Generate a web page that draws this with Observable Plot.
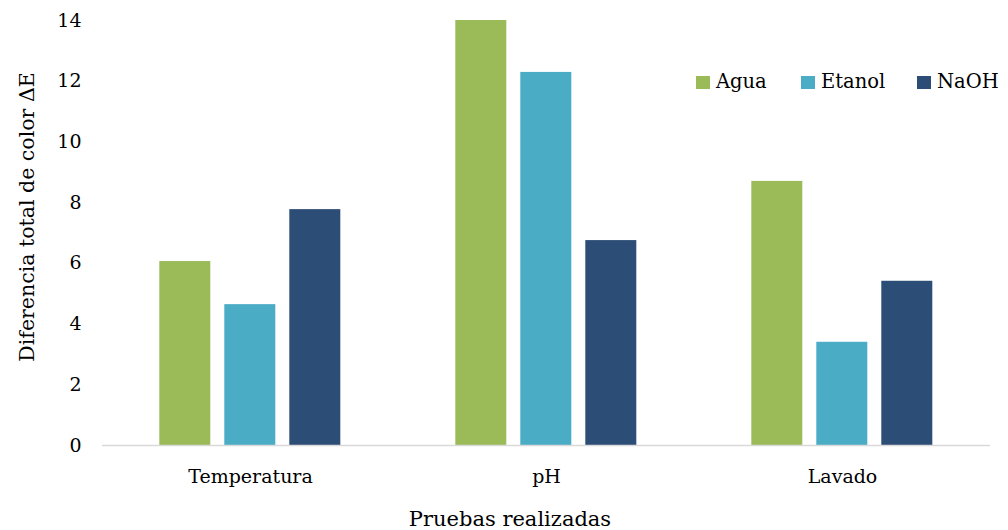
<!DOCTYPE html>
<html>
<head>
<meta charset="utf-8">
<script src="https://cdn.jsdelivr.net/npm/d3@7"></script>
<script src="https://cdn.jsdelivr.net/npm/@observablehq/plot@0.6"></script>
<style>
  html, body { margin: 0; padding: 0; background: #fff; overflow: hidden; }
  #chart { position: relative; width: 1008px; height: 530px; font-family: "DejaVu Serif", serif; color: #000; }
  #chart svg { display: block; }
  .legend .item { position: absolute; top: 70px; display: flex; align-items: center; gap: 6px; font-size: 19.5px; line-height: 24px; white-space: nowrap; }
  .legend .sw { width: 14px; height: 13px; display: inline-block; }
  .ytitle { position: absolute; left: -173px; top: 205px; width: 400px; height: 24px; line-height: 24px; text-align: center; font-size: 20.5px; transform: rotate(-90deg); white-space: nowrap; }
  .xtitle { position: absolute; left: 310px; top: 507px; width: 400px; height: 24px; line-height: 24px; text-align: center; font-size: 21px; white-space: nowrap; }
</style>
</head>
<body>
<div id="chart"></div>
<script>
// Pruebas (categorías) y solventes (series)
const pruebas = ["Temperatura", "pH", "Lavado"];
const solventes = ["Agua", "Etanol", "NaOH"];

// Diferencia total de color ΔE por prueba
const agua   = [6.06, 14.0, 8.70];
const etanol = [4.64, 12.29, 3.40];
const naoh   = [7.77, 6.75, 5.41];

const colores = ["#9BBB59", "#4BACC6", "#2C4D75"];
const yTicks = [0, 2, 4, 6, 8, 10, 12, 14];

const tituloY = "Diferencia total de color ΔE";
const tituloX = "Pruebas realizadas";

// Tabla larga para Plot
const series = [agua, etanol, naoh];
const filas = [];
pruebas.forEach((p, i) => {
  solventes.forEach((s, j) => {
    filas.push({ prueba: p, solvente: s, valor: series[j][i] });
  });
});

const chart = Plot.plot({
  width: 1008,
  height: 530,
  marginLeft: 101.7,
  marginRight: 16.7,
  marginTop: 20,
  marginBottom: 85,
  style: { fontFamily: "DejaVu Serif, serif", fontSize: "19px", color: "#000", background: "transparent" },
  fx: { domain: pruebas, padding: 0, label: null, axis: "bottom", tickSize: 0, tickPadding: 24 },
  x: { domain: solventes, paddingInner: 0.212, paddingOuter: 0.852, axis: null },
  y: { domain: [0, 14], ticks: yTicks, tickSize: 0, tickPadding: 21, label: null },
  color: { domain: solventes, range: colores },
  marks: [
    Plot.barY(filas, { fx: "prueba", x: "solvente", y: "valor", fill: "solvente" }),
    Plot.ruleY([0], { stroke: "#D9D9D9", strokeWidth: 1.5 })
  ]
});

const root = document.getElementById("chart");
root.appendChild(chart);

// Leyenda (posición horizontal de cada entrada)
const posLeyenda = [696, 801, 917];
const leyenda = document.createElement("div");
leyenda.className = "legend";
solventes.forEach((s, j) => {
  const item = document.createElement("div");
  item.className = "item";
  item.style.left = posLeyenda[j] + "px";
  const sw = document.createElement("span");
  sw.className = "sw";
  sw.style.background = colores[j];
  const t = document.createElement("span");
  t.textContent = s;
  item.appendChild(sw);
  item.appendChild(t);
  leyenda.appendChild(item);
});
root.appendChild(leyenda);

// Títulos de los ejes
const ty = document.createElement("div");
ty.className = "ytitle";
ty.textContent = tituloY;
root.appendChild(ty);

const tx = document.createElement("div");
tx.className = "xtitle";
tx.textContent = tituloX;
root.appendChild(tx);
</script>
</body>
</html>
